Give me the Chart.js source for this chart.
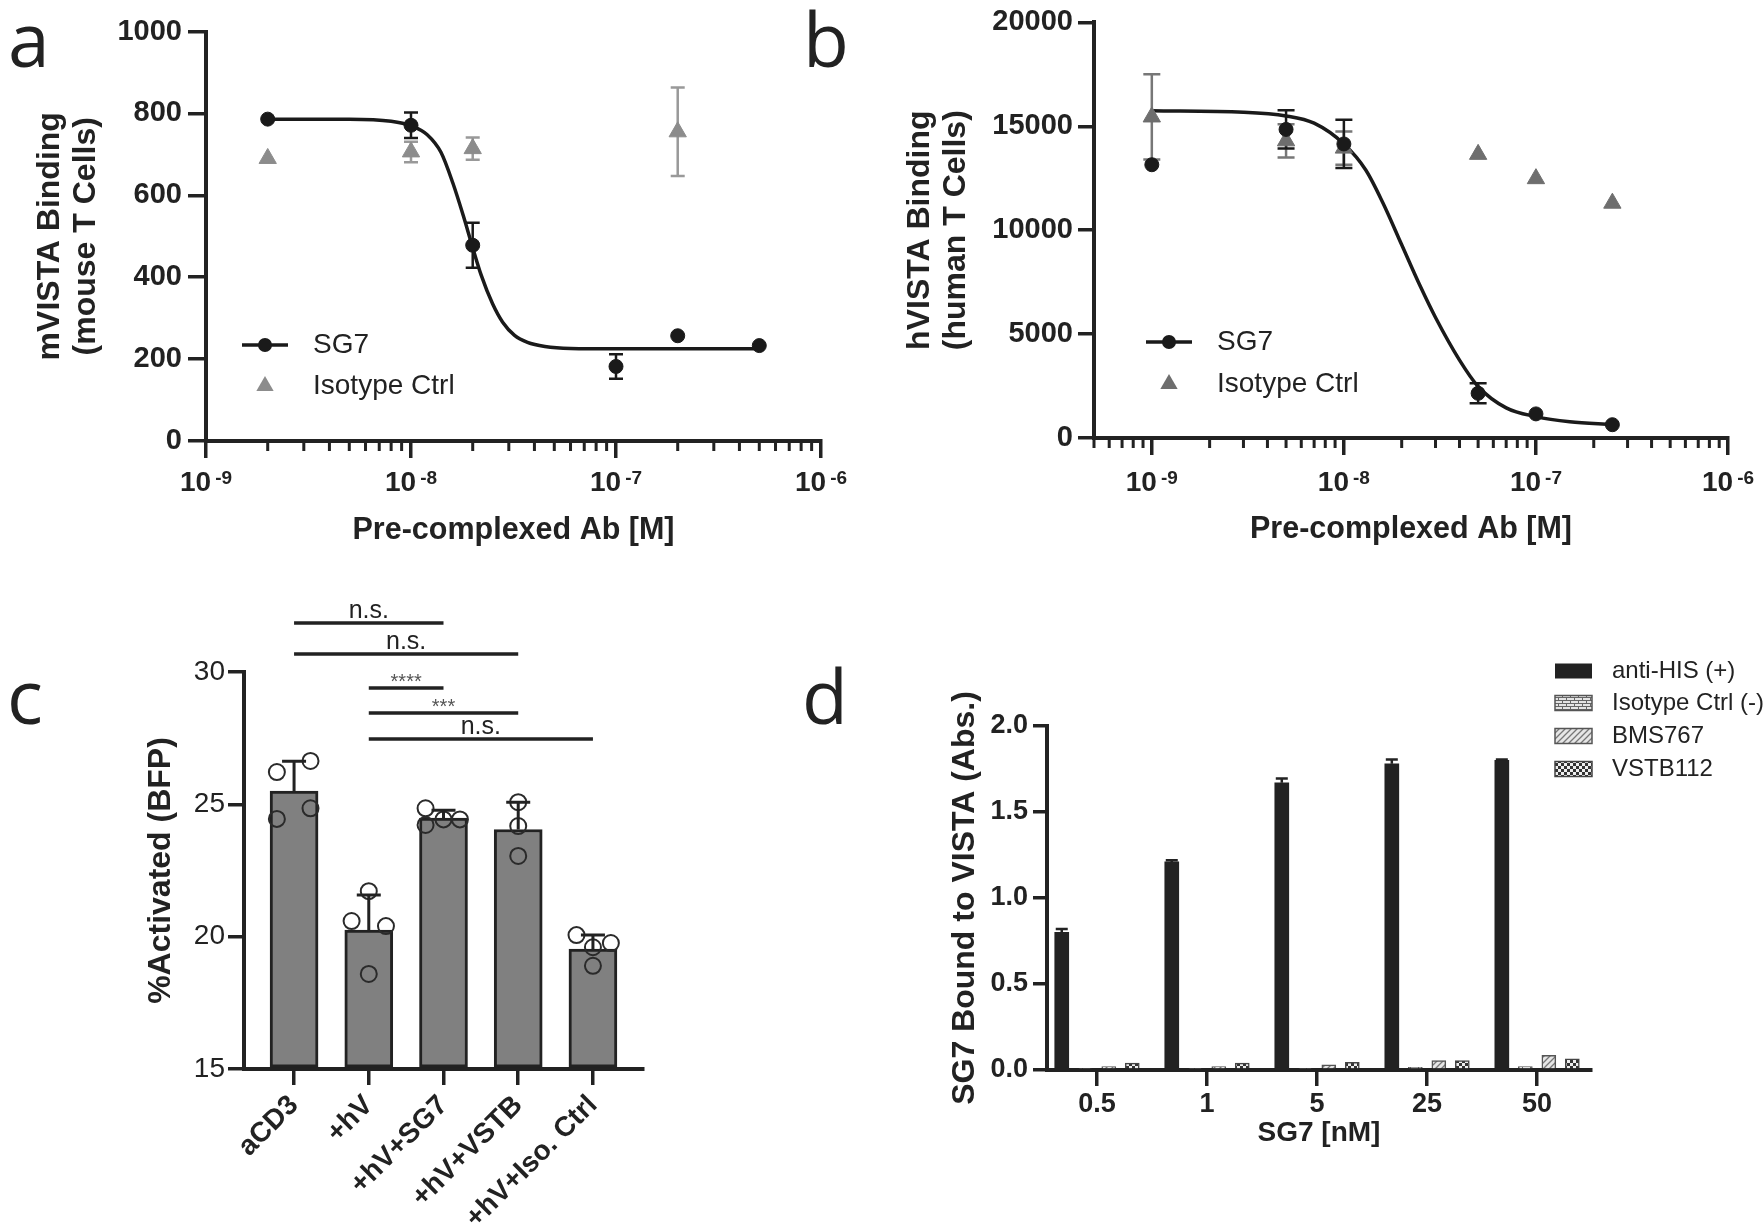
<!DOCTYPE html>
<html>
<head>
<meta charset="utf-8">
<script src="https://cdn.jsdelivr.net/npm/chart.js@4.4.1/dist/chart.umd.min.js"></script>
<style>
  body { margin: 0; background: #fff; }
  #page { position: relative; width: 1764px; height: 1225px; overflow: hidden; background: #fff; }
  .panel { position: absolute; }
  .letter { position: absolute; font-family: "Open Sans", "Noto Sans", sans-serif; font-size: 75px; line-height: 75px; color: #222; }
</style>
</head>
<body>
<div id="page">
  <div class="panel" style="left:0;top:0;width:880px;height:580px"><canvas id="chartA"></canvas></div>
  <div class="panel" style="left:880px;top:0;width:884px;height:580px"><canvas id="chartB"></canvas></div>
  <div class="panel" style="left:0;top:580px;width:880px;height:645px"><canvas id="chartC"></canvas></div>
  <div class="panel" style="left:880px;top:580px;width:884px;height:645px"><canvas id="chartD"></canvas></div>
  <div class="letter" style="left:8px;top:1px">a</div>
  <div class="letter" style="left:803px;top:1px">b</div>
  <div class="letter" style="left:7px;top:658px">c</div>
  <div class="letter" style="left:802px;top:658px">d</div>
</div>
<script>
const INK = '#222';
const FONT = '"Liberation Sans", Arial, Helvetica, sans-serif';

// ---- panel a : mouse T cells ----
const concA = [2e-9, 1e-8, 2e-8, 1e-7, 2e-7, 5e-7];
const sg7A = [786, 771, 478, 182, 257, 233];
const sg7ErrA = [0, 31, 55, 30, 0, 0];
const isoConcA = [2e-9, 1e-8, 2e-8, 2e-7];
const isoA = [690, 706, 714, 755];
const isoErrA = [0, 25, 27, 108];
const fitConcA = [2e-9, 5e-9, 8e-9, 1e-8, 1.2e-8, 1.4e-8, 1.6e-8, 1.8e-8, 2e-8, 2.2e-8, 2.5e-8, 2.8e-8, 3.2e-8, 3.7e-8, 4.5e-8, 6e-8, 1e-7, 2e-7, 5e-7];
const fitA = [786, 786, 781, 770, 748, 705, 630, 550, 472, 405, 335, 290, 258, 241, 231, 226, 225, 225, 225];
const yTicksA = [0, 200, 400, 600, 800, 1000];
const yTickLabelsA = ['0', '200', '400', '600', '800', '1000'];
const xTicksA = [1e-9, 1e-8, 1e-7, 1e-6];
const xTickExpA = ['-9', '-8', '-7', '-6'];

// ---- panel b : human T cells ----
const concB = [1e-9, 5e-9, 1e-8, 5e-8, 1e-7, 2.5e-7];
const sg7B = [13150, 14850, 14150, 2150, 1160, 640];
const sg7ErrB = [0, 920, 1160, 480, 0, 0];
const isoB = [15450, 14300, 13950, 13650, 12480, 11300];
const isoErrB = [2050, 800, 800, 0, 0, 0];
const fitConcB = [1e-9, 3e-9, 5e-9, 7e-9, 1e-8, 1.3e-8, 1.6e-8, 2e-8, 2.5e-8, 3e-8, 4e-8, 5e-8, 7e-8, 1e-7, 1.5e-7, 2.5e-7];
const fitB = [15750, 15680, 15500, 15150, 14150, 12900, 11300, 9300, 7300, 5800, 3750, 2480, 1450, 1030, 780, 640];
const yTicksB = [0, 5000, 10000, 15000, 20000];
const yTickLabelsB = ['0', '5000', '10000', '15000', '20000'];
const xTicksB = [1e-9, 1e-8, 1e-7, 1e-6];
const xTickExpB = ['-9', '-8', '-7', '-6'];
const xTickBase = '10';

// ---- panel c : %Activated (BFP) ----
const categoriesC = ['aCD3', '+hV', '+hV+SG7', '+hV+VSTB', '+hV+Iso. Ctrl'];
const meansC = [25.5, 20.25, 24.48, 24.05, 19.53];
const sdC = [1.13, 1.32, 0.30, 1.03, 0.53];
const pointGroupC = [0, 0, 0, 0, 1, 1, 1, 1, 2, 2, 2, 2, 3, 3, 3, 4, 4, 4, 4];
const pointJitterC = [-0.23, 0.22, -0.23, 0.22, -0.23, 0.23, 0, 0, -0.24, -0.24, 0, 0.22, 0, 0, 0, -0.22, 0.24, 0, 0];
const pointValueC = [26.22, 26.64, 24.45, 24.85, 20.59, 20.40, 21.72, 18.59, 24.85, 24.22, 24.43, 24.43, 25.08, 24.18, 23.05, 20.06, 19.76, 19.60, 18.90];
const sigFrom = [0, 0, 1, 1, 1];
const sigTo = [2, 3, 2, 3, 4];
const sigLevel = [31.85, 30.68, 29.40, 28.45, 27.47];
const sigText = ['n.s.', 'n.s.', '****', '***', 'n.s.'];
const yTicksC = [15, 20, 25, 30];
const yTickLabelsC = ['15', '20', '25', '30'];

// ---- panel d : SG7 bound to VISTA ----
const categoriesD = ['0.5', '1', '5', '25', '50'];
const antiHis = [0.80, 1.21, 1.67, 1.78, 1.80];
const antiHisErr = [0.02, 0.01, 0.025, 0.025, 0.005];
const isoCtrlD = [0.01, 0.01, 0.01, 0.015, 0.02];
const bms767 = [0.02, 0.02, 0.03, 0.055, 0.085];
const vstb112 = [0.04, 0.04, 0.045, 0.055, 0.065];
const yTicksD = [0, 0.5, 1, 1.5, 2];
const yTickLabelsD = ['0.0', '0.5', '1.0', '1.5', '2.0'];

Chart.defaults.font.family = FONT;
Chart.defaults.color = INK;
Chart.defaults.animation = false;

function pts(xs, ys) { return xs.map((x, i) => ({ x: x, y: ys[i] })); }
function fixedTicks(values) { return s => { s.ticks = values.map(v => ({ value: v })); }; }
function bold(size, lh) { return { family: FONT, size: size, weight: 'bold', lineHeight: lh || 1.2 }; }

// minor tick positions on a log axis: 2..9 x 10^e
function logMinors(lo, hi) {
  const out = [];
  for (let e = -10; e <= -7; e++) {
    for (let m = 2; m <= 9; m++) {
      const v = m * Math.pow(10, e);
      if (v >= lo * 0.999 && v < hi) out.push(v);
    }
  }
  return out;
}

function axis(tickLength) {
  return {
    border: { display: true, color: INK, width: 4 },
    grid: { display: true, drawOnChartArea: false, drawTicks: true, tickLength: tickLength,
            tickWidth: 3.5, tickColor: INK, lineWidth: 3.5, color: INK, offset: false }
  };
}

function errorBarPlugin(sets, hook) {
  return {
    id: 'errorBars',
    [hook](chart) {
      const ctx = chart.ctx, ys = chart.scales.y;
      sets.forEach(s => {
        const meta = chart.getDatasetMeta(s.dataset);
        const vals = chart.data.datasets[s.dataset].data;
        ctx.save();
        ctx.strokeStyle = s.color;
        ctx.lineWidth = s.width;
        meta.data.forEach((el, i) => {
          const err = s.err[i];
          if (!err) return;
          const v = typeof vals[i] === 'object' ? vals[i].y : vals[i];
          const top = ys.getPixelForValue(v + err);
          const bot = s.upOnly ? ys.getPixelForValue(v) : ys.getPixelForValue(v - err);
          ctx.beginPath();
          ctx.moveTo(el.x, top); ctx.lineTo(el.x, bot);
          ctx.moveTo(el.x - s.cap / 2, top); ctx.lineTo(el.x + s.cap / 2, top);
          if (!s.upOnly) { ctx.moveTo(el.x - s.cap / 2, bot); ctx.lineTo(el.x + s.cap / 2, bot); }
          ctx.stroke();
        });
        ctx.restore();
      });
    }
  };
}

function minorTickPlugin(values, len) {
  return {
    id: 'minorTicks',
    afterDraw(chart) {
      const ctx = chart.ctx, xs = chart.scales.x, b = chart.chartArea.bottom;
      ctx.save();
      ctx.strokeStyle = INK;
      ctx.lineWidth = 3;
      ctx.beginPath();
      values.forEach(v => {
        const px = xs.getPixelForValue(v);
        ctx.moveTo(px, b); ctx.lineTo(px, b + len);
      });
      ctx.stroke();
      ctx.restore();
    }
  };
}

// "10" with a raised exponent under each decade tick
function decadeLabelPlugin(values, exps, drop) {
  return {
    id: 'decadeLabels',
    afterDraw(chart) {
      const ctx = chart.ctx, xs = chart.scales.x, y0 = chart.chartArea.bottom + drop;
      ctx.save();
      ctx.fillStyle = INK;
      ctx.textAlign = 'left';
      ctx.textBaseline = 'alphabetic';
      values.forEach((v, i) => {
        ctx.font = 'bold 28px ' + FONT;
        const wb = ctx.measureText(xTickBase).width;
        ctx.font = 'bold 19px ' + FONT;
        const we = ctx.measureText(exps[i]).width;
        const x0 = xs.getPixelForValue(v) - (wb + 4 + we) / 2;
        ctx.font = 'bold 28px ' + FONT;
        ctx.fillText(xTickBase, x0, y0);
        ctx.font = 'bold 19px ' + FONT;
        ctx.fillText(exps[i], x0 + wb + 4, y0 - 7);
      });
      ctx.restore();
    }
  };
}

function drawTriangle(ctx, x, y, r) {
  ctx.beginPath();
  ctx.moveTo(x, y - r);
  ctx.lineTo(x + r * 0.866, y + r * 0.5);
  ctx.lineTo(x - r * 0.866, y + r * 0.5);
  ctx.closePath();
  ctx.fill();
}

// legend: line with dot + triangle
function markerLegendPlugin(cfg) {
  return {
    id: 'markerLegend',
    afterDraw(chart) {
      const ctx = chart.ctx;
      ctx.save();
      ctx.strokeStyle = '#1a1a1a';
      ctx.fillStyle = '#1a1a1a';
      ctx.lineWidth = 3.5;
      ctx.beginPath();
      ctx.moveTo(cfg.x1, cfg.y1); ctx.lineTo(cfg.x2, cfg.y1);
      ctx.stroke();
      ctx.beginPath();
      ctx.arc((cfg.x1 + cfg.x2) / 2, cfg.y1, 7, 0, Math.PI * 2);
      ctx.fill();
      ctx.fillStyle = cfg.triColor;
      drawTriangle(ctx, (cfg.x1 + cfg.x2) / 2, cfg.y2, 10);
      ctx.fillStyle = INK;
      ctx.font = '28px ' + FONT;
      ctx.textAlign = 'left';
      ctx.textBaseline = 'middle';
      ctx.fillText(cfg.labels[0], cfg.tx, cfg.y1);
      ctx.fillText(cfg.labels[1], cfg.tx, cfg.y2);
      ctx.restore();
    }
  };
}

function curveChart(id, o) {
  return new Chart(document.getElementById(id), {
    type: 'scatter',
    data: {
      datasets: [
        { label: 'SG7', data: pts(o.conc, o.sg7), pointRadius: 7, pointHoverRadius: 7,
          backgroundColor: '#1a1a1a', borderColor: '#1a1a1a', showLine: false },
        { label: 'Isotype Ctrl', data: pts(o.isoConc, o.iso), pointStyle: 'triangle', pointRadius: 10,
          pointHoverRadius: 10, backgroundColor: o.triColor, borderColor: o.triColor, showLine: false },
        { label: 'fit', data: pts(o.fitConc, o.fit), showLine: true, pointRadius: 0, borderColor: '#1a1a1a',
          borderWidth: 3.5, cubicInterpolationMode: 'monotone', fill: false }
      ]
    },
    options: {
      responsive: true, maintainAspectRatio: false,
      layout: { padding: o.padding },
      plugins: { legend: { display: false }, tooltip: { enabled: false } },
      scales: {
        x: Object.assign(axis(17), {
          type: 'logarithmic', min: o.xMin, max: 1e-6,
          afterBuildTicks: fixedTicks(o.xTicks),
          afterFit: s => { s.height = o.xHeight; },
          ticks: { display: false, autoSkip: false, maxRotation: 0 },
          title: { display: true, text: 'Pre-complexed Ab [M]', font: bold(30.5), color: INK,
                   padding: { top: 0, bottom: o.xTitlePad } }
        }),
        y: Object.assign(axis(o.yTick), {
          min: o.yTicks[0], max: o.yTicks[o.yTicks.length - 1],
          afterBuildTicks: fixedTicks(o.yTicks),
          afterFit: s => { s.width = o.yWidth; },
          ticks: { padding: o.yPad, font: bold(29), color: INK, callback: (v, i) => o.yLabels[i] },
          title: { display: true, text: o.yTitle, font: bold(32, 1.125),
                   color: INK, padding: { top: o.yTitlePad, bottom: 0 } }
        })
      }
    },
    plugins: [
      errorBarPlugin([
        { dataset: 1, err: o.isoErr, color: o.errColor, width: 2.5, cap: o.cap },
        { dataset: 0, err: o.sg7Err, color: '#1a1a1a', width: 2.5, cap: o.cap }
      ], 'beforeDatasetsDraw'),
      minorTickPlugin(logMinors(o.xMin, 1e-6), 10),
      decadeLabelPlugin(o.xTicks, o.xExp, o.labelDrop),
      markerLegendPlugin(o.legend)
    ]
  });
}

curveChart('chartA', {
  conc: concA, sg7: sg7A, sg7Err: sg7ErrA, isoConc: isoConcA, iso: isoA, isoErr: isoErrA,
  fitConc: fitConcA, fit: fitA, xMin: 1e-9, xTicks: xTicksA, xExp: xTickExpA,
  yTicks: yTicksA, yLabels: yTickLabelsA, yTitle: ['mVISTA Binding', '(mouse T Cells)'],
  triColor: '#8c8c8c', errColor: '#999', cap: 14,
  padding: { left: 0, top: 31.5, right: 59, bottom: 0 },
  xHeight: 139, xTitlePad: 31, labelDrop: 50, yWidth: 206, yTick: 18, yPad: 6, yTitlePad: 32,
  legend: { x1: 242, x2: 288, y1: 345, y2: 386, tx: 313, triColor: '#8c8c8c', labels: ['SG7', 'Isotype Ctrl'] }
});

curveChart('chartB', {
  conc: concB, sg7: sg7B, sg7Err: sg7ErrB, isoConc: concB, iso: isoB, isoErr: isoErrB,
  fitConc: fitConcB, fit: fitB, xMin: 5e-10, xTicks: xTicksB, xExp: xTickExpB,
  yTicks: yTicksB, yLabels: yTickLabelsB, yTitle: ['hVISTA Binding', '(human T Cells)'],
  triColor: '#6e6e6e', errColor: '#777', cap: 17,
  padding: { left: 0, top: 18, right: 36, bottom: 0 },
  xHeight: 142, xTitlePad: 32, labelDrop: 53, yWidth: 214, yTick: 16, yPad: 5, yTitlePad: 22,
  legend: { x1: 266, x2: 312, y1: 342, y2: 384, tx: 337, triColor: '#6e6e6e', labels: ['SG7', 'Isotype Ctrl'] }
});

// ---- panel c ----
const sigBarPlugin = {
  id: 'sigBars',
  afterDraw(chart) {
    const ctx = chart.ctx, xs = chart.scales.x, ys = chart.scales.y;
    ctx.save();
    sigLevel.forEach((lvl, i) => {
      const x1 = xs.getPixelForValue(sigFrom[i]);
      const x2 = xs.getPixelForValue(sigTo[i]);
      const py = ys.getPixelForValue(lvl);
      ctx.strokeStyle = INK;
      ctx.lineWidth = 3.5;
      ctx.beginPath();
      ctx.moveTo(x1, py); ctx.lineTo(x2, py);
      ctx.stroke();
      const stars = sigText[i].charAt(0) === '*';
      ctx.fillStyle = stars ? '#555' : INK;
      ctx.font = (stars ? '20px ' : '25px ') + FONT;
      ctx.textAlign = 'center';
      ctx.textBaseline = 'alphabetic';
      ctx.fillText(sigText[i], (x1 + x2) / 2, py - (stars ? 0 : 5));
    });
    ctx.restore();
  }
};

new Chart(document.getElementById('chartC'), {
  type: 'bar',
  data: {
    datasets: [
      { type: 'scatter', label: 'points',
        data: pointValueC.map((v, i) => ({ x: pointGroupC[i] + pointJitterC[i], y: v })),
        pointRadius: 8, pointHoverRadius: 8, borderColor: '#2a2a2a', borderWidth: 2,
        backgroundColor: 'rgba(0,0,0,0)' },
      { label: '%Activated', data: meansC.map((v, i) => ({ x: i, y: v })), base: 15,
        barThickness: 48, backgroundColor: '#808080', borderColor: INK, borderWidth: 3,
        borderSkipped: false }
    ]
  },
  options: {
    responsive: true, maintainAspectRatio: false,
    layout: { padding: { left: 0, top: 92, right: 237, bottom: 0 } },
    plugins: { legend: { display: false }, tooltip: { enabled: false } },
    scales: {
      x: Object.assign(axis(16), {
        type: 'linear', min: -0.67, max: 4.67, offset: false,
        afterBuildTicks: fixedTicks([0, 1, 2, 3, 4]),
        afterFit: s => { s.height = 156; },
        ticks: { autoSkip: false, minRotation: 45, maxRotation: 45, padding: 4, font: bold(28), color: INK,
                 callback: (v, i) => categoriesC[i] }
      }),
      y: Object.assign(axis(16), {
        min: 15, max: 30,
        afterBuildTicks: fixedTicks(yTicksC),
        afterFit: s => { s.width = 244; },
        ticks: { padding: 3, font: { family: FONT, size: 28 }, color: INK, callback: (v, i) => yTickLabelsC[i] },
        title: { display: true, text: '%Activated (BFP)', font: bold(32), color: INK,
                 padding: { top: 142, bottom: 0 } }
      })
    }
  },
  plugins: [
    errorBarPlugin([{ dataset: 1, err: sdC, color: INK, width: 3, cap: 24, upOnly: true }], 'afterDatasetsDraw'),
    sigBarPlugin
  ]
});

// ---- panel d ----
function makePattern(kind) {
  const c = document.createElement('canvas');
  const g = c.getContext('2d');
  if (kind === 'brick') {
    c.width = 8; c.height = 6;
    g.fillStyle = '#e4e4e4'; g.fillRect(0, 0, 8, 6);
    g.strokeStyle = '#666'; g.lineWidth = 1;
    g.beginPath();
    g.moveTo(0, 0.5); g.lineTo(8, 0.5); g.moveTo(0, 3.5); g.lineTo(8, 3.5);
    g.moveTo(2.5, 0); g.lineTo(2.5, 3); g.moveTo(6.5, 3); g.lineTo(6.5, 6);
    g.stroke();
  } else if (kind === 'hatch') {
    c.width = 6; c.height = 6;
    g.fillStyle = '#e6e6e6'; g.fillRect(0, 0, 6, 6);
    g.strokeStyle = '#777'; g.lineWidth = 1.3;
    g.beginPath();
    g.moveTo(0, 6); g.lineTo(6, 0); g.moveTo(-1, 1); g.lineTo(1, -1); g.moveTo(5, 7); g.lineTo(7, 5);
    g.stroke();
  } else {
    c.width = 6; c.height = 6;
    g.fillStyle = '#eeeeee'; g.fillRect(0, 0, 6, 6);
    g.fillStyle = '#333'; g.fillRect(0, 0, 3, 3); g.fillRect(3, 3, 3, 3);
  }
  return g.createPattern(c, 'repeat');
}

const legendDPlugin = {
  id: 'legendD',
  afterDraw(chart) {
    const ctx = chart.ctx;
    const rows = [91, 123, 156, 189];
    ctx.save();
    chart.data.datasets.forEach((ds, i) => {
      const y = rows[i];
      ctx.fillStyle = ds.backgroundColor;
      ctx.fillRect(675, y - 7.5, 37, 15);
      if (ds.borderWidth) {
        ctx.strokeStyle = ds.borderColor;
        ctx.lineWidth = 1.5;
        ctx.strokeRect(675, y - 7.5, 37, 15);
      }
      ctx.fillStyle = INK;
      ctx.font = '24px ' + FONT;
      ctx.textAlign = 'left';
      ctx.textBaseline = 'middle';
      ctx.fillText(ds.label, 732, y);
    });
    ctx.restore();
  }
};

// four bars side by side around each dose
const slotD = 23.5 / 110;
function groupD(values, k) { return values.map((v, i) => ({ x: i + (k - 1.5) * slotD, y: v })); }
const barD = { barThickness: 14, grouped: false };
new Chart(document.getElementById('chartD'), {
  type: 'bar',
  data: {
    datasets: [
      Object.assign({ label: 'anti-HIS (+)', data: groupD(antiHis, 0), backgroundColor: '#222', borderWidth: 0 }, barD),
      Object.assign({ label: 'Isotype Ctrl (-)', data: groupD(isoCtrlD, 1), backgroundColor: makePattern('brick'),
                      borderColor: '#555', borderWidth: 1.5, borderSkipped: 'start' }, barD),
      Object.assign({ label: 'BMS767', data: groupD(bms767, 2), backgroundColor: makePattern('hatch'),
                      borderColor: '#555', borderWidth: 1.5, borderSkipped: 'start' }, barD),
      Object.assign({ label: 'VSTB112', data: groupD(vstb112, 3), backgroundColor: makePattern('check'),
                      borderColor: '#444', borderWidth: 1.5, borderSkipped: 'start' }, barD)
    ]
  },
  options: {
    responsive: true, maintainAspectRatio: false,
    layout: { padding: { left: 0, top: 146, right: 173, bottom: 0 } },
    plugins: { legend: { display: false }, tooltip: { enabled: false } },
    scales: {
      x: Object.assign(axis(16), {
        type: 'linear', min: -0.4545, max: 4.49, offset: false,
        afterBuildTicks: fixedTicks([0, 1, 2, 3, 4]),
        afterFit: s => { s.height = 155; },
        ticks: { autoSkip: false, maxRotation: 0, padding: 2, font: bold(27), color: INK,
                 callback: (v, i) => categoriesD[i] },
        title: { display: true, text: 'SG7 [nM]', font: bold(28), color: INK, padding: { top: 0, bottom: 75 } }
      }),
      y: Object.assign(axis(14), {
        min: 0, max: 2,
        afterBuildTicks: fixedTicks(yTicksD),
        afterFit: s => { s.width = 167; },
        ticks: { padding: 5, font: bold(27), color: INK, callback: (v, i) => yTickLabelsD[i] },
        title: { display: true, text: 'SG7 Bound to VISTA (Abs.)', font: bold(32), color: INK,
                 padding: { top: 66, bottom: 0 } }
      })
    }
  },
  plugins: [
    errorBarPlugin([{ dataset: 0, err: antiHisErr, color: INK, width: 2.5, cap: 12, upOnly: true }], 'afterDatasetsDraw'),
    legendDPlugin
  ]
});
</script>
</body>
</html>
